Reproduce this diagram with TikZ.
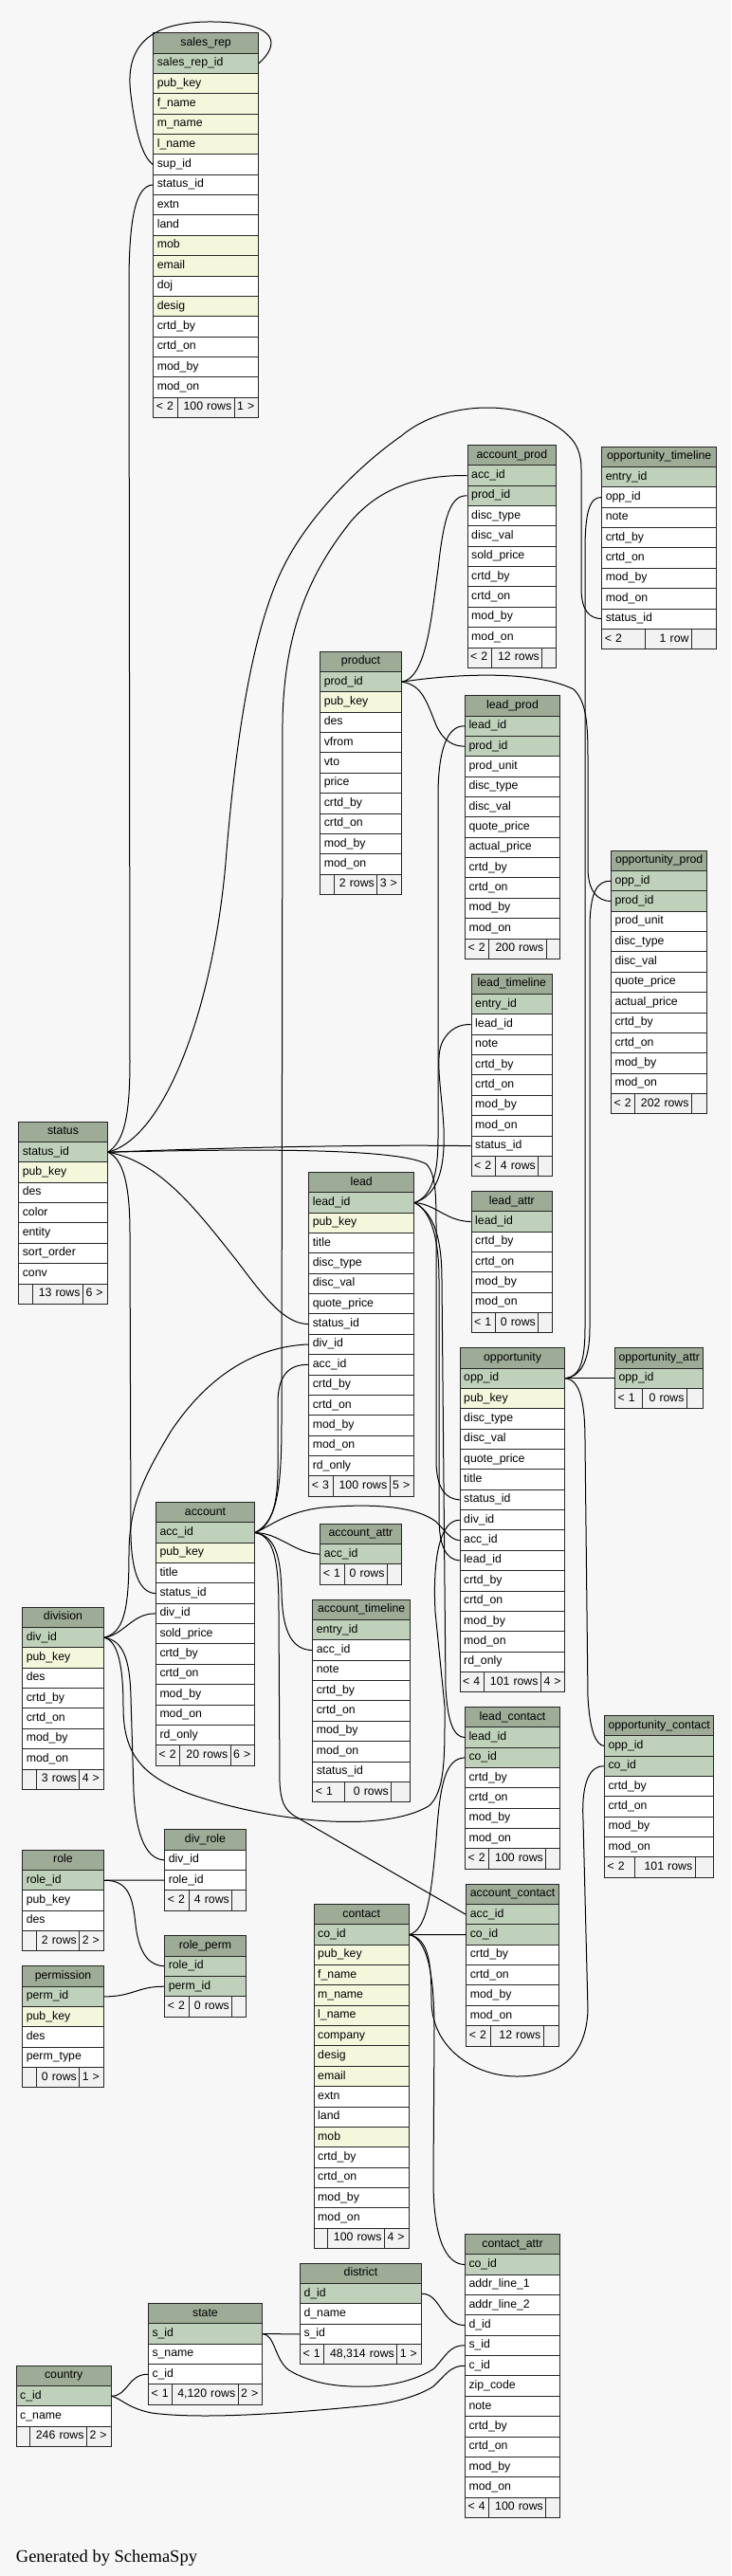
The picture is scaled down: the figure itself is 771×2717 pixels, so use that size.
\documentclass[tikz,border=0pt]{standalone}
\usepackage{fontspec}
\setmainfont{Liberation Sans}
\newfontfamily\creditfont{Liberation Serif}

\definecolor{bgfill}{HTML}{F7F7F7}
\definecolor{fillh}{HTML}{9DAB97}
\definecolor{fillp}{HTML}{BFD1BA}
\definecolor{filli}{HTML}{F4F7DC}
\definecolor{filln}{HTML}{FFFFFF}
\definecolor{fillf}{HTML}{F2F2F2}

% table: name, x, y, width, rows (kind/column)
\newcommand\dbtable[5]{%
  \pgfmathsetmacro\tw{#4-8}
  \node[cell, fill=fillh, minimum width=#4pt, align=center] (#1) at (#2,#3) {\detokenize{#1}};
  \foreach \ty/\fd [count=\k] in {#5}{
    \node[cell, fill=fill\ty, text width=\tw pt] (#1-\fd) at (#2,{#3+\k*21.35}) {\detokenize\expandafter{\fd}};
    \coordinate (#1-end) at (#2,{#3+(\k+1)*21.35});
  }
}
% footer: name, width, divider 1, divider 2, left, middle, right
\newcommand\dbfoot[7]{%
  \pgfmathsetmacro\fa{#3-6}
  \pgfmathsetmacro\fb{#4-#3-6}
  \pgfmathsetmacro\fc{#2-#4-6}
  \node[cell, foot, text width=\fa pt] (#1-fl) at (#1-end) {\mbox{#5}};
  \node[cell, foot, text width=\fb pt, align=right] (#1-fm) at ([xshift=#3pt]#1-end) {\mbox{#6}};
  \node[cell, foot, text width=\fc pt] (#1-fr) at ([xshift=#4pt]#1-end) {\mbox{#7}};
}

\begin{document}
\begin{tikzpicture}[x=1pt, y=-1pt,
    cell/.style={draw=black!85, line width=1pt, anchor=north west,
        minimum height=21.35pt, inner xsep=4pt, inner ysep=0pt, align=left,
        text height=9pt, text depth=3pt, font=\fontsize{12.3}{14}\selectfont},
    foot/.style={fill=fillf, inner xsep=3pt},
    fk/.style={draw=black, line width=1pt}]
\fill[bgfill] (0,0) rectangle (771,2717);
\useasboundingbox (0,0) rectangle (771,2717);

\dbtable{sales_rep}{161.3}{34.3}{110.7}{p/sales_rep_id,i/pub_key,i/f_name,i/m_name,i/l_name,n/sup_id,n/status_id,n/extn,n/land,i/mob,i/email,n/doj,i/desig,n/crtd_by,n/crtd_on,n/mod_by,n/mod_on}
\dbfoot{sales_rep}{110.7}{25.4}{85.4}{< 2}{100 rows}{1 >}

\dbtable{account_prod}{492.7}{469}{93.3}{p/acc_id,p/prod_id,n/disc_type,n/disc_val,n/sold_price,n/crtd_by,n/crtd_on,n/mod_by,n/mod_on}
\dbfoot{account_prod}{93.3}{25.3}{78.6}{< 2}{12 rows}{}

\dbtable{opportunity_timeline}{634.3}{470.7}{120.7}{p/entry_id,n/opp_id,n/note,n/crtd_by,n/crtd_on,n/mod_by,n/mod_on,n/status_id}
\dbfoot{opportunity_timeline}{120.7}{45.7}{94.7}{< 2}{1 row}{}

\dbtable{product}{337.3}{686.7}{85.4}{p/prod_id,i/pub_key,n/des,n/vfrom,n/vto,n/price,n/crtd_by,n/crtd_on,n/mod_by,n/mod_on}
\dbfoot{product}{85.4}{14.7}{60}{}{2 rows}{3 >}

\dbtable{lead_prod}{490}{733.3}{100}{p/lead_id,p/prod_id,n/prod_unit,n/disc_type,n/disc_val,n/quote_price,n/actual_price,n/crtd_by,n/crtd_on,n/mod_by,n/mod_on}
\dbfoot{lead_prod}{100}{25.3}{85.7}{< 2}{200 rows}{}

\dbtable{opportunity_prod}{644}{896.7}{101.3}{p/opp_id,p/prod_id,n/prod_unit,n/disc_type,n/disc_val,n/quote_price,n/actual_price,n/crtd_by,n/crtd_on,n/mod_by,n/mod_on}
\dbfoot{opportunity_prod}{101.3}{25.3}{85}{< 2}{202 rows}{}

\dbtable{lead_timeline}{496.7}{1026.7}{85.3}{p/entry_id,n/lead_id,n/note,n/crtd_by,n/crtd_on,n/mod_by,n/mod_on,n/status_id}
\dbfoot{lead_timeline}{85.3}{25.3}{70.6}{< 2}{4 rows}{}

\dbtable{status}{19.3}{1182.7}{93.4}{p/status_id,i/pub_key,n/des,n/color,n/entity,n/sort_order,n/conv}
\dbfoot{status}{93.4}{14.4}{67.7}{}{13 rows}{6 >}

\dbtable{lead}{325.3}{1236}{110.7}{p/lead_id,i/pub_key,n/title,n/disc_type,n/disc_val,n/quote_price,n/status_id,n/div_id,n/acc_id,n/crtd_by,n/crtd_on,n/mod_by,n/mod_on,n/rd_only}
\dbfoot{lead}{110.7}{25.4}{85.4}{< 3}{100 rows}{5 >}

\dbtable{lead_attr}{496.7}{1256}{85.3}{p/lead_id,n/crtd_by,n/crtd_on,n/mod_by,n/mod_on}
\dbfoot{lead_attr}{85.3}{25.3}{70.6}{< 1}{0 rows}{}

\dbtable{opportunity}{484.7}{1421.3}{110.6}{p/opp_id,i/pub_key,n/disc_type,n/disc_val,n/quote_price,n/title,n/status_id,n/div_id,n/acc_id,n/lead_id,n/crtd_by,n/crtd_on,n/mod_by,n/mod_on,n/rd_only}
\dbfoot{opportunity}{110.6}{25.3}{85.3}{< 4}{101 rows}{4 >}

\dbtable{opportunity_attr}{648}{1421.3}{93.3}{p/opp_id}
\dbfoot{opportunity_attr}{93.3}{28.7}{76}{< 1}{0 rows}{}

\dbtable{account}{164}{1584}{104}{p/acc_id,i/pub_key,n/title,n/status_id,n/div_id,n/sold_price,n/crtd_by,n/crtd_on,n/mod_by,n/mod_on,n/rd_only}
\dbfoot{account}{104}{25.3}{78.7}{< 2}{20 rows}{6 >}

\dbtable{account_attr}{337.3}{1606.7}{85.4}{p/acc_id}
\dbfoot{account_attr}{85.4}{25.4}{70.7}{< 1}{0 rows}{}

\dbtable{account_timeline}{329.3}{1686.7}{102.7}{p/entry_id,n/acc_id,n/note,n/crtd_by,n/crtd_on,n/mod_by,n/mod_on,n/status_id}
\dbfoot{account_timeline}{102.7}{33.4}{83}{< 1}{0 rows}{}

\dbtable{division}{23.3}{1694.7}{85.4}{p/div_id,i/pub_key,n/des,n/crtd_by,n/crtd_on,n/mod_by,n/mod_on}
\dbfoot{division}{85.4}{15}{60}{}{3 rows}{4 >}

\dbtable{lead_contact}{490}{1800}{100}{p/lead_id,p/co_id,n/crtd_by,n/crtd_on,n/mod_by,n/mod_on}
\dbfoot{lead_contact}{100}{25.3}{85.3}{< 2}{100 rows}{}

\dbtable{opportunity_contact}{637}{1809}{115}{p/opp_id,p/co_id,n/crtd_by,n/crtd_on,n/mod_by,n/mod_on}
\dbfoot{opportunity_contact}{115}{32.3}{95.7}{< 2}{101 rows}{}

\dbtable{div_role}{173.3}{1929.3}{85.4}{n/div_id,n/role_id}
\dbfoot{div_role}{85.4}{25.4}{71}{< 2}{4 rows}{}

\dbtable{role}{23.3}{1950.7}{85.4}{p/role_id,n/pub_key,n/des}
\dbfoot{role}{85.4}{15}{60}{}{2 rows}{2 >}

\dbtable{account_contact}{491.3}{1986.7}{97.4}{p/acc_id,p/co_id,n/crtd_by,n/crtd_on,n/mod_by,n/mod_on}
\dbfoot{account_contact}{97.4}{26}{81.4}{< 2}{12 rows}{}

\dbtable{contact}{330.7}{2008}{100}{p/co_id,i/pub_key,i/f_name,i/m_name,i/l_name,i/company,i/desig,i/email,n/extn,n/land,i/mob,n/crtd_by,n/crtd_on,n/mod_by,n/mod_on}
\dbfoot{contact}{100}{14.6}{74.3}{}{100 rows}{4 >}

\dbtable{role_perm}{173.3}{2041.3}{85.4}{p/role_id,p/perm_id}
\dbfoot{role_perm}{85.4}{25.4}{71}{< 2}{0 rows}{}

\dbtable{permission}{23.3}{2073.3}{85.4}{p/perm_id,i/pub_key,n/des,n/perm_type}
\dbfoot{permission}{85.4}{15}{60}{}{0 rows}{1 >}

\dbtable{contact_attr}{490}{2356}{100}{p/co_id,n/addr_line_1,n/addr_line_2,n/d_id,n/s_id,n/c_id,n/zip_code,n/note,n/crtd_by,n/crtd_on,n/mod_by,n/mod_on}
\dbfoot{contact_attr}{100}{25.3}{85.3}{< 4}{100 rows}{}

\dbtable{district}{316}{2386.7}{128}{p/d_id,n/d_name,n/s_id}
\dbfoot{district}{128}{24.7}{102.3}{< 1}{48,314 rows}{1 >}

\dbtable{state}{156}{2429}{120}{p/s_id,n/s_name,n/c_id}
\dbfoot{state}{120}{25.3}{94.7}{< 1}{4,120 rows}{2 >}

\dbtable{country}{16.7}{2494.7}{100}{p/c_id,n/c_name}
\dbfoot{country}{100}{14.6}{74.3}{}{246 rows}{2 >}

\node[anchor=base west, inner sep=0pt, font=\creditfont\fontsize{18.5}{20}\selectfont] (credit) at (16.7,2702) {Generated by SchemaSpy};

% sales_rep
\draw[fk] (sales_rep-sales_rep_id.east) .. controls (292,50) and (300,24) .. (225,23) .. controls (150,22) and (132,55) .. (138,100) .. controls (143,140) and (150,165) .. (sales_rep-sup_id.west);
\draw[fk] (status-status_id.east) .. controls (130,1205) and (137,1180) .. (137,1120) -- (136,300) .. controls (136,222) and (145,196) .. (sales_rep-status_id.west);

% status
\draw[fk] (status-status_id.east) .. controls (175,1200) and (225,1060) .. (238,910) .. controls (250,760) and (270,650) .. (303,590) .. controls (330,540) and (380,490) .. (423,460) .. controls (470,420) and (560,420) .. (600,460) .. controls (608,468) and (613,478) .. (613,495) -- (613,620) .. controls (613,645) and (622,652) .. (opportunity_timeline-status_id.west);
\draw[fk] (status-status_id.east) .. controls (250,1210) and (400,1207) .. (lead_timeline-status_id.west);
\draw[fk] (status-status_id.east) .. controls (250,1212) and (420,1210) .. (450,1228) .. controls (460,1240) and (460,1260) .. (460,1300) -- (460,1540) .. controls (460,1570) and (470,1581) .. (opportunity-status_id.west);
\draw[fk] (status-status_id.east) .. controls (170,1225) and (210,1280) .. (250,1330) .. controls (280,1370) and (300,1396) .. (lead-status_id.west);
\draw[fk] (status-status_id.east) .. controls (130,1222) and (137,1250) .. (137,1300) -- (138,1620) .. controls (139,1660) and (148,1680) .. (account-status_id.west);

% product
\draw[fk] (product-prod_id.east) .. controls (450,715) and (455,650) .. (462,600) .. controls (468,545) and (475,522) .. (account_prod-prod_id.west);
\draw[fk] (product-prod_id.east) .. controls (445,722) and (450,740) .. (460,765) .. controls (468,782) and (478,787) .. (lead_prod-prod_id.west);
\draw[fk] (product-prod_id.east) .. controls (470,712) and (560,705) .. (605,727) .. controls (618,740) and (620,760) .. (620,800) -- (620,915) .. controls (620,940) and (630,950) .. (opportunity_prod-prod_id.west);

% opportunity
\draw[fk] (opportunity_timeline-opp_id.west) .. controls (622,524) and (617,540) .. (617,580) -- (617,1400) .. controls (617,1440) and (610,1452) .. (opportunity-opp_id.east);
\draw[fk] (opportunity_prod-opp_id.west) .. controls (630,929) and (622,940) .. (622,980) -- (622,1400) .. controls (622,1440) and (610,1452) .. (opportunity-opp_id.east);
\draw[fk] (opportunity-opp_id.east) -- (opportunity_attr-opp_id.west);
\draw[fk] (opportunity-opp_id.east) .. controls (612,1455) and (617,1480) .. (617,1520) -- (620,1790) .. controls (622,1825) and (628,1840) .. (opportunity_contact-opp_id.west);

% lead
\draw[fk] (lead-lead_id.east) .. controls (455,1262) and (462,1240) .. (462,1200) -- (462,840) .. controls (462,790) and (472,765) .. (lead_prod-lead_id.west);
\draw[fk] (lead-lead_id.east) .. controls (458,1262) and (470,1240) .. (468,1190) .. controls (466,1150) and (458,1115) .. (467,1098) .. controls (474,1085) and (485,1080) .. (lead_timeline-lead_id.west);
\draw[fk] (lead-lead_id.east) .. controls (460,1270) and (470,1288) .. (lead_attr-lead_id.west);
\draw[fk] (lead-lead_id.east) .. controls (452,1275) and (463,1300) .. (463,1350) -- (463,1600) .. controls (463,1630) and (470,1645) .. (opportunity-lead_id.west);
\draw[fk] (lead-lead_id.east) .. controls (455,1278) and (466,1300) .. (466,1350) -- (470,1780) .. controls (472,1815) and (478,1832) .. (lead_contact-lead_id.west);

% account
\draw[fk] (account-acc_id.east) .. controls (290,1605) and (297,1580) .. (297,1500) -- (298,760) .. controls (300,660) and (330,600) .. (370,550) .. controls (400,515) and (440,501) .. (account_prod-acc_id.west);
\draw[fk] (account-acc_id.east) .. controls (285,1610) and (293,1590) .. (293,1550) -- (293,1480) .. controls (293,1450) and (305,1439) .. (lead-acc_id.west);
\draw[fk] (account-acc_id.east) .. controls (285,1610) and (300,1595) .. (340,1590) .. controls (400,1585) and (440,1590) .. (460,1605) .. controls (470,1615) and (475,1624) .. (opportunity-acc_id.west);
\draw[fk] (account-acc_id.east) .. controls (295,1617) and (310,1638) .. (account_attr-acc_id.west);
\draw[fk] (account-acc_id.east) .. controls (290,1620) and (296,1640) .. (297,1680) .. controls (298,1725) and (310,1740) .. (account_timeline-acc_id.west);
\draw[fk] (account-acc_id.east) .. controls (290,1620) and (294,1650) .. (294,1700) -- (295,1880) .. controls (296,1900) and (300,1908) .. (310,1915) -- (account_contact-acc_id.west);

% division
\draw[fk] (division-div_id.east) .. controls (130,1725) and (140,1701) .. (account-div_id.west);
\draw[fk] (division-div_id.east) .. controls (130,1722) and (136,1700) .. (136,1640) .. controls (136,1590) and (150,1560) .. (180,1510) .. controls (220,1450) and (270,1420) .. (lead-div_id.west);
\draw[fk] (division-div_id.east) .. controls (130,1730) and (137,1750) .. (138,1790) -- (141,1890) .. controls (143,1930) and (152,1961) .. (div_role-div_id.west);
\draw[fk] (division-div_id.east) .. controls (125,1730) and (130,1760) .. (130,1800) .. controls (130,1845) and (145,1872) .. (200,1892) .. controls (280,1920) and (400,1935) .. (452,1905) .. controls (470,1890) and (469,1850) .. (469,1800) -- (459,1700) .. controls (456,1640) and (465,1603) .. (opportunity-div_id.west);

% role
\draw[fk] (role-role_id.east) -- (div_role-role_id.west);
\draw[fk] (role-role_id.east) .. controls (135,1983) and (140,2000) .. (143,2030) .. controls (147,2065) and (160,2073) .. (role_perm-role_id.west);
\draw[fk] (permission-perm_id.east) .. controls (140,2106) and (145,2095) .. (role_perm-perm_id.west);

% contact
\draw[fk] (contact-co_id.east) .. controls (450,2035) and (455,2000) .. (460,1940) .. controls (464,1880) and (470,1855) .. (lead_contact-co_id.west);
\draw[fk] (contact-co_id.east) -- (account_contact-co_id.west);
\draw[fk] (contact-co_id.east) .. controls (452,2045) and (455,2070) .. (455,2110) .. controls (455,2160) and (500,2190) .. (545,2190) .. controls (590,2190) and (618,2170) .. (620,2120) -- (615,1920) .. controls (613,1880) and (622,1862) .. (opportunity_contact-co_id.west);
\draw[fk] (contact-co_id.east) .. controls (450,2045) and (458,2080) .. (458,2140) -- (457,2300) .. controls (457,2360) and (470,2388) .. (contact_attr-co_id.west);

% places
\draw[fk] (district-d_id.east) .. controls (465,2419) and (465,2452) .. (contact_attr-d_id.west);
\draw[fk] (state-s_id.east) -- (district-s_id.west);
\draw[fk] (state-s_id.east) .. controls (290,2462) and (290,2490) .. (305,2500) .. controls (330,2515) and (360,2518) .. (390,2517) .. controls (420,2516) and (445,2507) .. (458,2498) .. controls (470,2485) and (475,2473) .. (contact_attr-s_id.west);
\draw[fk] (country-c_id.east) .. controls (135,2527) and (135,2504) .. (state-c_id.west);
\draw[fk] (country-c_id.east) .. controls (128,2530) and (135,2540) .. (160,2545) .. controls (220,2553) and (330,2543) .. (390,2537) .. controls (420,2534) and (445,2525) .. (457,2517) .. controls (470,2505) and (475,2495) .. (contact_attr-c_id.west);
\end{tikzpicture}
\end{document}
